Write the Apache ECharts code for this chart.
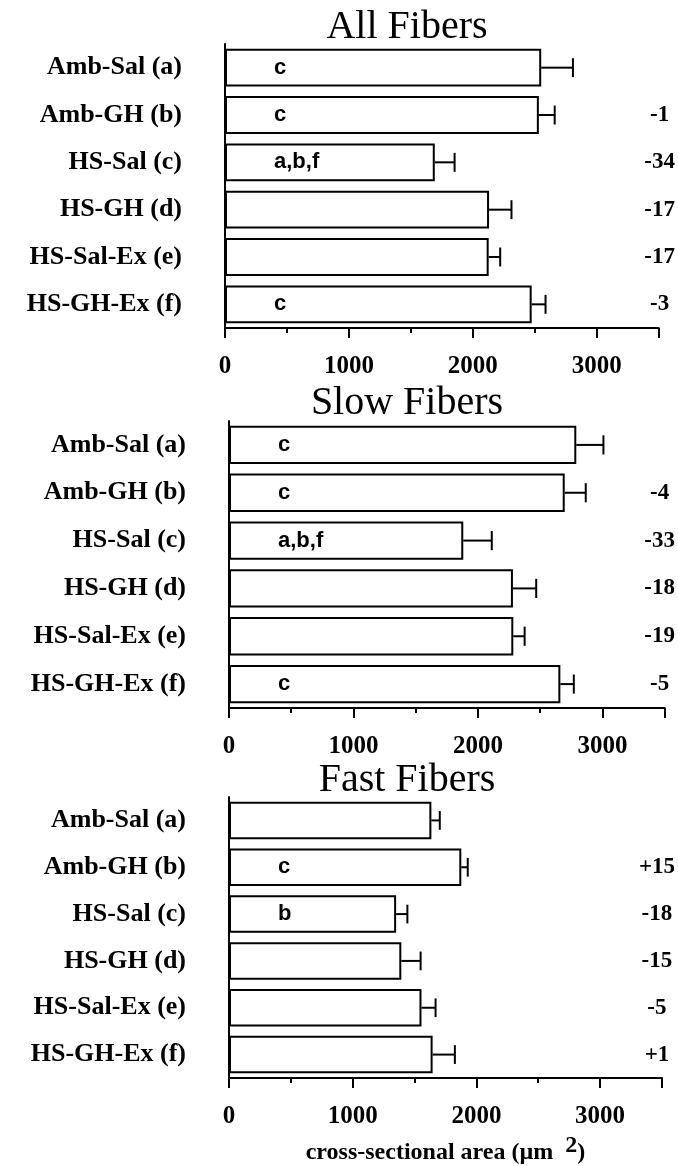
<!DOCTYPE html>
<html>
<head>
<meta charset="utf-8">
<script src="https://cdn.jsdelivr.net/npm/echarts@6/dist/echarts.min.js"></script>
<style>
html,body{margin:0;padding:0;background:#fff;}
#chart{width:678px;height:1166px;}
</style>
</head>
<body>
<div id="chart"></div>
<script>
const categories = ['Amb-Sal (a)', 'Amb-GH (b)', 'HS-Sal (c)', 'HS-GH (d)', 'HS-Sal-Ex (e)', 'HS-GH-Ex (f)'];
const xTicks = [0, 1000, 2000, 3000];

const panelTitles = ['All Fibers', 'Slow Fibers', 'Fast Fibers'];

const allMean = [2552, 2533, 1693, 2131, 2128, 2475];
const allErr  = [256, 128, 160, 181, 93, 112];
const allSig  = ['c', 'c', 'a,b,f', '', '', 'c'];
const allPct  = ['', '-1', '-34', '-17', '-17', '-3'];

const slowMean = [2790, 2697, 1882, 2281, 2284, 2662];
const slowErr  = [218, 169, 229, 187, 91, 108];
const slowSig  = ['c', 'c', 'a,b,f', '', '', 'c'];
const slowPct  = ['', '-4', '-33', '-18', '-19', '-5'];

const fastMean = [1636, 1878, 1351, 1393, 1556, 1646];
const fastErr  = [68, 52, 91, 156, 114, 180];
const fastSig  = ['', 'c', 'b', '', '', ''];
const fastPct  = ['', '+15', '-18', '-15', '-5', '+1'];

const panels = [
  {mean: allMean, err: allErr, sig: allSig, pct: allPct},
  {mean: slowMean, err: slowErr, sig: slowSig, pct: slowPct},
  {mean: fastMean, err: fastErr, sig: fastSig, pct: fastPct}
];

const SERIF = '"Liberation Serif", "DejaVu Serif", serif';
const SANS = '"Liberation Sans", Arial, sans-serif';

const layout = [
  {left: 225, right: 18, top: 44, height: 284, titleTop: 2},
  {left: 229, right: 12, top: 421, height: 287, titleTop: 378},
  {left: 229, right: 12, top: 797, height: 285, titleTop: 755}
];

const chart = echarts.init(document.getElementById('chart'), null, {renderer: 'canvas'});

const grids = [], xAxes = [], yAxes = [], series = [], titles = [];

panels.forEach((p, i) => {
  const L = layout[i];
  grids.push({left: L.left, right: L.right, top: L.top, height: L.height, containLabel: false});
  titles.push({
    text: panelTitles[i], left: 402, top: L.titleTop, textAlign: 'center',
    textStyle: {fontFamily: SERIF, fontSize: 40, fontWeight: 'normal', color: '#000'}
  });
  // main axis: labels and long ticks every 1000
  xAxes.push({
    type: 'value', gridIndex: i, min: 0, max: 3500, interval: 1000, position: 'bottom',
    axisLine: {show: true, lineStyle: {color: '#000', width: 2}},
    axisTick: {show: true, length: 10, lineStyle: {color: '#000', width: 2}},
    splitLine: {show: false},
    axisLabel: {
      margin: 26, color: '#000', fontFamily: SERIF, fontWeight: 'bold', fontSize: 25,
      formatter: v => (xTicks.indexOf(v) >= 0 ? String(v) : '')
    },
    name: i === 2 ? 'cross-sectional area (µm {sup|2})' : '',
    nameLocation: 'middle', nameGap: 56,
    nameTextStyle: {
      fontFamily: SERIF, fontWeight: 'bold', fontSize: 24, color: '#000',
      rich: {sup: {fontFamily: SERIF, fontWeight: 'bold', fontSize: 24, color: '#000', padding: [0, 0, 14, 6]}}
    }
  });
  // secondary axis: short ticks every 500
  xAxes.push({
    type: 'value', gridIndex: i, min: 0, max: 3500, interval: 500, position: 'bottom', offset: 0,
    axisLine: {show: false},
    axisTick: {show: true, length: 5, lineStyle: {color: '#000', width: 2}},
    splitLine: {show: false},
    axisLabel: {show: false}
  });
  yAxes.push({
    type: 'category', gridIndex: i, data: categories, inverse: true,
    axisLine: {show: true, lineStyle: {color: '#000', width: 2}},
    axisTick: {show: false},
    axisLabel: {margin: 43, color: '#000', fontFamily: SERIF, fontWeight: 'bold', fontSize: 26}
  });
  yAxes.push({
    type: 'category', gridIndex: i, data: p.pct, inverse: true, position: 'right',
    axisLine: {show: false}, axisTick: {show: false},
    axisLabel: {margin: 661 - (678 - L.right), align: 'center', color: '#000', fontFamily: SERIF, fontWeight: 'bold', fontSize: 23}
  });
  series.push({
    type: 'bar', xAxisIndex: i * 2, yAxisIndex: i * 2, data: p.mean,
    barCategoryGap: '20%',
    itemStyle: {color: '#fff', borderColor: '#000', borderWidth: 2},
    label: {
      show: true, position: [49, '50%'], verticalAlign: 'middle', align: 'left',
      fontFamily: SANS, fontWeight: 'bold', fontSize: 22, color: '#000',
      formatter: prm => p.sig[prm.dataIndex]
    },
    silent: true, animation: false
  });
  series.push({
    type: 'custom', xAxisIndex: i * 2, yAxisIndex: i * 2,
    data: p.mean.map((m, k) => [m, k, p.err[k]]),
    encode: {x: 0, y: 1},
    renderItem: (params, api) => {
      const m = api.value(0), k = api.value(1), e = api.value(2);
      const a = api.coord([m, k]);
      const b = api.coord([m + e, k]);
      const h = api.size([0, 1])[1] * 0.2;
      const st = {stroke: '#000', lineWidth: 2};
      return {type: 'group', children: [
        {type: 'line', shape: {x1: a[0], y1: a[1], x2: b[0], y2: b[1]}, style: st},
        {type: 'line', shape: {x1: b[0], y1: b[1] - h, x2: b[0], y2: b[1] + h}, style: st}
      ]};
    },
    silent: true, animation: false, z: 3
  });
});

chart.setOption({
  backgroundColor: '#fff',
  animation: false,
  title: titles,
  grid: grids,
  xAxis: xAxes,
  yAxis: yAxes,
  series: series
});
</script>
</body>
</html>
